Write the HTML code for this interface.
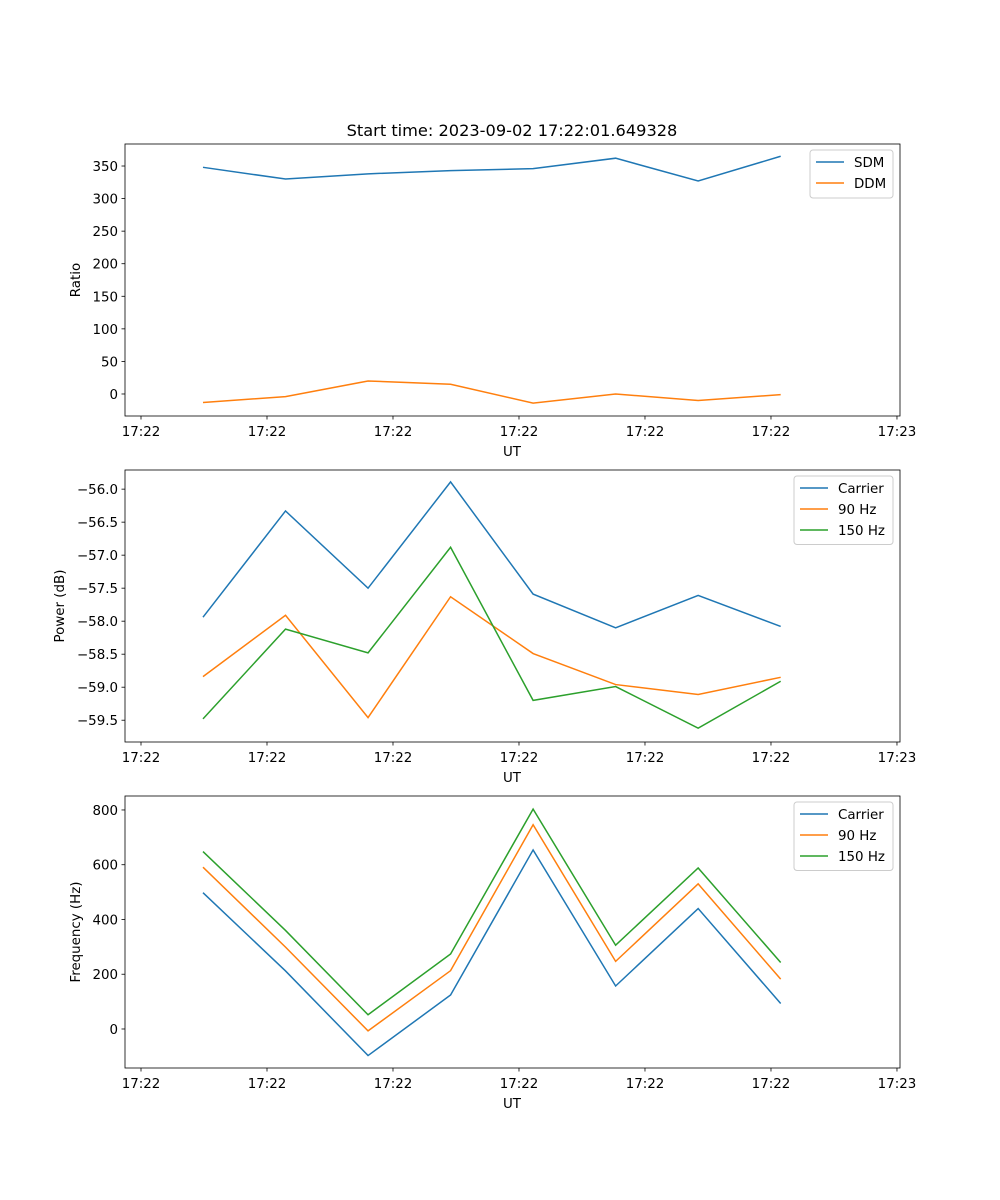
<!DOCTYPE html>
<html><head><meta charset="utf-8"><style>
body{margin:0;background:#fff}
svg{display:block;font-family:"DejaVu Sans","Liberation Sans",sans-serif}
</style></head><body>
<svg id="fig" width="1000" height="1200" xmlns="http://www.w3.org/2000/svg">
<rect width="1000" height="1200" fill="#fff"/>
<text x="512" y="136" font-size="16.2" text-anchor="middle">Start time: 2023-09-02 17:22:01.649328</text>
</svg>
<script>
const xTickLabels = ["17:22","17:22","17:22","17:22","17:22","17:22","17:23"];
const xPoints = [0.492,1.147,1.802,2.457,3.112,3.767,4.422,5.077];
const sdm = [348,330,338,343,346,362,327,365];
const ddm = [-13,-4,20,15,-14,0,-10,-1];
const pCarrier = [-57.94,-56.33,-57.5,-55.89,-57.59,-58.1,-57.61,-58.08];
const p90 = [-58.84,-57.91,-59.46,-57.63,-58.49,-58.96,-59.11,-58.85];
const p150 = [-59.48,-58.12,-58.48,-56.88,-59.2,-58.99,-59.62,-58.91];
const fCarrier = [498,212,-97,124,654,157,440,93];
const f90 = [591,299,-7,213,746,247,530,182];
const f150 = [648,360,52,274,803,306,588,243];
const ratioTicks = [0,50,100,150,200,250,300,350];
const powerTicks = [-59.5,-59,-58.5,-58,-57.5,-57,-56.5,-56];
const powerTickLabels = ["−59.5","−59.0","−58.5","−58.0","−57.5","−57.0","−56.5","−56.0"];
const freqTicks = [0,200,400,600,800];

const NS="http://www.w3.org/2000/svg";
const svg=document.getElementById('fig');
const C={b:'#1f77b4',o:'#ff7f0e',g:'#2ca02c'};
function mk(tag,attrs,parent){const e=document.createElementNS(NS,tag);for(const k in attrs)e.setAttribute(k,attrs[k]);(parent||svg).appendChild(e);return e;}
const L=125,R=900,xmin=-0.127,xmax=6.024;
const xs=v=>L+(v-xmin)/(xmax-xmin)*(R-L);
const FS=13.4;

function panel(name,top,ymin,ymax,yticks,ylabels,ylabel,series,legend){
  const bot=top+272;
  const ys=v=>bot-(v-ymin)/(ymax-ymin)*(bot-top);
  const g=mk('g',{});
  
  
  series.forEach(s=>{
    const p=mk('polyline',{points:s.data.map((v,i)=>xs(xPoints[i])+','+ys(v)).join(' '),fill:'none',stroke:s.c,'stroke-width':1.5},g);
    
    
  });
  const fr=mk('rect',{x:L,y:top,width:R-L,height:bot-top,fill:'none',stroke:'#000','stroke-width':0.8},g);
  
  
  xTickLabels.forEach((t,i)=>{
    const x=xs(i);
    mk('line',{x1:x,x2:x,y1:bot,y2:bot+3.5,stroke:'#000','stroke-width':0.8},g);
    const tx=mk('text',{x:x,y:bot+20,'font-size':FS,'text-anchor':'middle'},g);
    tx.textContent=t;
    
    
  });
  yticks.forEach((v,i)=>{
    const y=ys(v);
    mk('line',{x1:L,x2:L-3.5,y1:y,y2:y,stroke:'#000','stroke-width':0.8},g);
    const tx=mk('text',{x:L-7,y:y+5,'font-size':FS,'text-anchor':'end'},g);
    tx.textContent=ylabels[i];
    
    
  });
  const xl=mk('text',{x:512,y:bot+40,'font-size':FS,'text-anchor':'middle'},g);
  xl.textContent='UT';
  
  
  const yx=legend.ylx;
  const yl=mk('text',{x:yx,y:(top+bot)/2,'font-size':FS,'text-anchor':'middle',transform:`rotate(-90 ${yx} ${(top+bot)/2})`},g);
  yl.textContent=ylabel;
  
  
  const lw=legend.w,lx=R-7-lw,ly=top+6,lh=7+series.length*20.5;
  const lg=mk('g',{},g);
  
  
  mk('rect',{x:lx,y:ly,width:lw,height:lh,rx:3,fill:'#fff','fill-opacity':0.8,stroke:'#ccc'},lg);
  series.forEach((s,i)=>{
    const yy=ly+12+i*21;
    mk('line',{x1:lx+6,x2:lx+34,y1:yy,y2:yy,stroke:s.c,'stroke-width':1.5},lg);
    const t=mk('text',{x:lx+44,y:yy+5,'font-size':FS},lg);
    t.textContent=s.label;
    
    
  });
}
panel('ratio',144,-33.8,383.8,ratioTicks,ratioTicks.map(String),'Ratio',
  [{id:'sdm',label:'SDM',c:C.b,data:sdm},{id:'ddm',label:'DDM',c:C.o,data:ddm}],{w:83,ylx:80});
panel('power',470,-59.83,-55.71,powerTicks,powerTickLabels,'Power (dB)',
  [{id:'carrier',label:'Carrier',c:C.b,data:pCarrier},{id:'90hz',label:'90 Hz',c:C.o,data:p90},{id:'150hz',label:'150 Hz',c:C.g,data:p150}],{w:99,ylx:64});
panel('frequency',796,-142.5,851,freqTicks,freqTicks.map(String),'Frequency (Hz)',
  [{id:'carrier',label:'Carrier',c:C.b,data:fCarrier},{id:'90hz',label:'90 Hz',c:C.o,data:f90},{id:'150hz',label:'150 Hz',c:C.g,data:f150}],{w:99,ylx:80});
</script>
</body></html>
